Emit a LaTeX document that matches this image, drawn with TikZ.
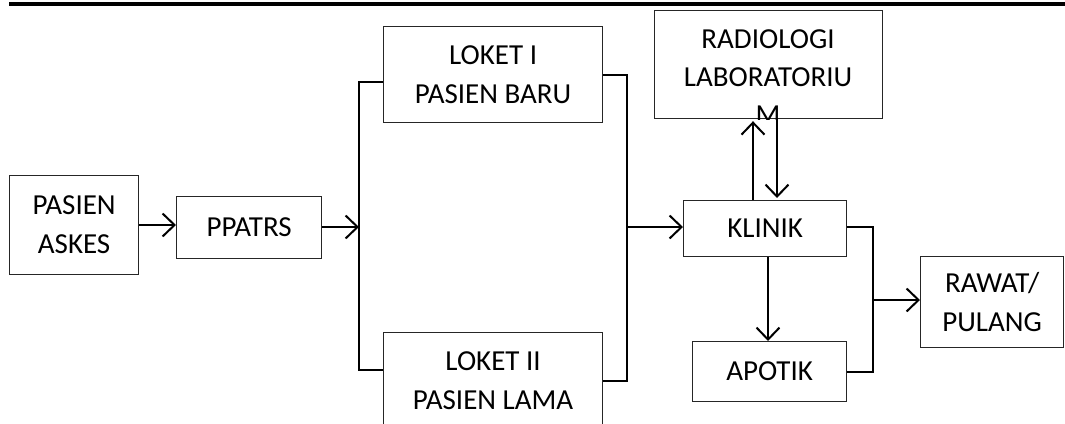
\documentclass[tikz,border=0pt]{standalone}
\usepackage{fontspec}
\setmainfont{Carlito}
\usetikzlibrary{arrows.meta}
\tikzset{
  box/.style={draw=black!85, line width=1.2pt, inner sep=0pt, anchor=north west, align=center,
              font=\fontsize{29}{39}\selectfont},
  txt/.style={inner sep=0pt, font=\fontsize{29}{39}\selectfont},
  conn/.style={line width=2pt, black},
  arr/.style={conn, -{Straight Barb[length=12pt,width=23pt,line width=2pt]}},
}
\begin{document}
\begin{tikzpicture}[x=1pt,y=-1pt]
\useasboundingbox (0,0) rectangle (1065,423);
\clip (0,0) rectangle (1065,423);
% top rule
\draw[line width=4.5pt] (9,4) -- (1065,4);
% boxes
\node[box, minimum width=129pt, minimum height=99pt] (askes) at (9,175) {PASIEN\\ASKES};
\node[box, minimum width=145pt, minimum height=62pt] (ppatrs) at (176,196) {PPATRS};
\node[box, minimum width=219pt, minimum height=96pt] (lok1) at (383,26) {LOKET I\\PASIEN BARU};
\node[box, minimum width=219pt, minimum height=96pt] (lok2) at (383,332) {LOKET II\\PASIEN LAMA};
\node[box, minimum width=228pt, minimum height=108pt] (rad) at (654,10) {};
\node[box, minimum width=163pt, minimum height=56pt] (klinik) at (683,200) {KLINIK};
\node[box, minimum width=154pt, minimum height=60pt] (apotik) at (692,341) {APOTIK};
\node[box, minimum width=143pt, minimum height=91pt] (rawat) at (920,256) {RAWAT/\\PULANG};
% radiologi text, overflowing and clipped by its box
\begin{scope}
  \clip (rad.north west) rectangle (rad.south east);
  \node[txt, anchor=base] (rad1) at (768,48) {RADIOLOGI};
  \node[txt, anchor=base] (rad2) at (768,86) {LABORATORIU};
  \node[txt, anchor=base] (rad3) at (768,124) {M};
\end{scope}
% connector points
\coordinate (lb) at (359,227);
\coordinate (rb) at (627,227);
\coordinate (kb) at (873,300);
% connectors
\draw[arr] (askes.east |- 0,225) -- (ppatrs.west |- 0,225);
\draw[arr] (ppatrs.east |- lb) -- (lb);
\draw[conn] (lok1.west |- 0,82) -- (359,82) -- (359,370) -- (lok2.west |- 0,370);
\draw[conn] (lok1.east |- 0,75) -- (627,75) -- (627,381) -- (lok2.east |- 0,381);
\draw[arr] (rb) -- (klinik.west |- rb);
\draw[arr] (klinik.north -| 753,0) -- ([yshift=-2pt]rad.south -| 753,0);
\draw[arr] (rad.south -| 777,0) -- ([yshift=2pt]klinik.north -| 777,0);
\draw[arr] (klinik.south -| 768,0) -- (apotik.north -| 768,0);
\draw[conn] (klinik.east |- 0,227) -- (873,227) -- (873,372) -- (apotik.east |- 0,372);
\draw[arr] (kb) -- (rawat.west |- kb);
\end{tikzpicture}
\end{document}
